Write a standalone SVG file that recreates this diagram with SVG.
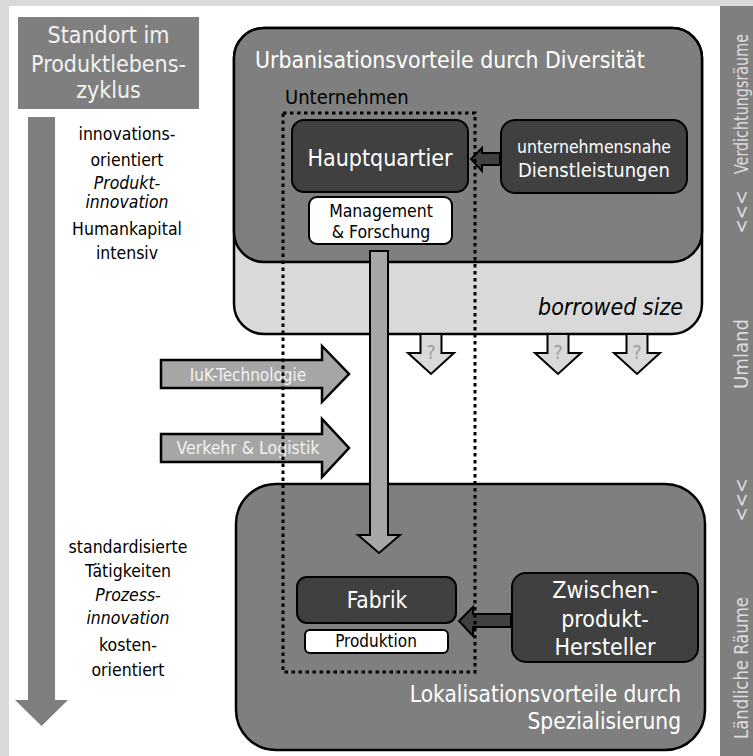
<svg xmlns="http://www.w3.org/2000/svg" width="753" height="756" viewBox="0 0 753 756">
<style>
text{font-family:"DejaVu Sans Condensed","DejaVu Sans",sans-serif;}
.w{fill:#ffffff;}
.k{fill:#000000;}
.c{text-anchor:middle;}
.r{text-anchor:end;}
.it{font-style:italic;}
.big{fill:#7f7f7f;stroke:#000;stroke-width:2.5;}
.node{fill:#404040;stroke:#000;stroke-width:2;}
.sub{fill:#ffffff;stroke:#000;stroke-width:2;}
.flow{fill:#a6a6a6;stroke:#000;stroke-width:2.5;stroke-linejoin:miter;}
.q{fill:#d9d9d9;stroke:#000;stroke-width:2;}
.dark{fill:#404040;stroke:#000;stroke-width:2;}
.side{fill:#dcdcdc;font-size:19px;text-anchor:middle;}
.qm{fill:#a0a0a0;font-size:20px;text-anchor:middle;}
</style>
<rect x="0" y="0" width="753" height="756" fill="#d9d9d9"/>
<rect x="9" y="6" width="711" height="750" fill="#ffffff"/>
<rect x="720" y="6" width="33" height="750" fill="#7f7f7f"/>

<g id="sidebar">
<text class="side" transform="translate(748,104) rotate(-90)" textLength="140" lengthAdjust="spacingAndGlyphs">Verdichtungsräume</text>
<text class="side" transform="translate(748,212) rotate(-90)">&lt;&lt;&lt;</text>
<text class="side" transform="translate(748,354) rotate(-90)" textLength="70" lengthAdjust="spacingAndGlyphs">Umland</text>
<text class="side" transform="translate(748,500) rotate(-90)">&lt;&lt;&lt;</text>
<text class="side" transform="translate(748,668) rotate(-90)" textLength="142" lengthAdjust="spacingAndGlyphs">Ländliche Räume</text>
</g>

<g id="title">
<rect x="18" y="17" width="181" height="92" fill="#7f7f7f"/>
<text class="c" x="108.5" y="43" font-size="23" fill="#f2f2f2">Standort im</text>
<text class="c" x="108.5" y="72" font-size="23" fill="#f2f2f2">Produktlebens-</text>
<text class="c" x="108.5" y="98" font-size="23" fill="#f2f2f2">zyklus</text>
</g>

<g id="lifecycle">
<polygon points="28,117 55,117 55,700 68,700 41.5,726 15,700 28,700" fill="#7f7f7f"/>
<g font-size="17.5" class="k">
<text class="c" x="127" y="140">innovations-</text>
<text class="c" x="127" y="166">orientiert</text>
<text class="c it" x="127" y="189">Produkt-</text>
<text class="c it" x="127" y="208">innovation</text>
<text class="c" x="127" y="235">Humankapital</text>
<text class="c" x="127" y="259">intensiv</text>
<text class="c" x="128" y="553">standardisierte</text>
<text class="c" x="128" y="577">Tätigkeiten</text>
<text class="c it" x="128" y="601">Prozess-</text>
<text class="c it" x="128" y="624">innovation</text>
<text class="c" x="128" y="651">kosten-</text>
<text class="c" x="128" y="676">orientiert</text>
</g>
</g>

<g id="urban">
<rect class="big" x="234" y="28" width="468" height="306" rx="30" style="fill:#d9d9d9"/>
<rect class="big" x="234" y="28" width="468" height="234" rx="30"/>
<text x="255" y="68" font-size="22.8" class="w">Urbanisationsvorteile durch Diversität</text>
<text class="r it k" x="683" y="315" font-size="23">borrowed size</text>
</g>

<g id="lokal">
<rect class="big" x="236" y="484" width="469" height="266" rx="40"/>
<text class="r w" x="681" y="702" font-size="22.5">Lokalisationsvorteile durch</text>
<text class="r w" x="681" y="729" font-size="22.5">Spezialisierung</text>
</g>

<g id="connectors">
<polygon class="q" points="420.5,334 441.5,334 441.5,353 454,353 431,374 408,353 420.5,353"/>
<polygon class="q" points="547.5,334 568.5,334 568.5,353 581,353 558,374 535,353 547.5,353"/>
<polygon class="q" points="626.5,334 647.5,334 647.5,353 660,353 637,374 614,353 626.5,353"/>
<text class="qm" x="431" y="359">?</text>
<text class="qm" x="558" y="359">?</text>
<text class="qm" x="637" y="359">?</text>
<polygon class="flow" points="161,360 322,360 322,346 349,374 322,402 322,388 161,388"/>
<text class="c" x="248" y="381" font-size="17" fill="#f2f2f2">IuK-Technologie</text>
<polygon class="flow" points="161,434 322,434 322,419 349,448 322,477 322,462 161,462"/>
<text class="c" x="248" y="454" font-size="17.5" fill="#f2f2f2">Verkehr &amp; Logistik</text>
<polygon class="flow" style="stroke-width:2" points="370,251 388,251 388,535 400,535 379,553 358,535 370,535"/>
<polygon class="dark" points="500,153 482,153 482,148 471,159 482,171 482,165 500,165"/>
<polygon class="dark" points="511,614 473,614 473,607 459,621 473,636 473,627 511,627"/>
</g>

<g id="unternehmen">
<text x="285" y="104" font-size="20" class="k">Unternehmen</text>
<rect x="283" y="113" width="192" height="559" fill="none" stroke="#000" stroke-width="3" stroke-dasharray="3.5 3.5"/>
</g>

<g id="hauptquartier">
<rect class="node" x="292" y="120" width="176" height="72" rx="12"/>
<text class="c w" x="380" y="166" font-size="23">Hauptquartier</text>
</g>
<g id="management">
<rect class="sub" x="309" y="197" width="143" height="47" rx="8"/>
<text class="c k" x="381" y="217" font-size="17.5">Management</text>
<text class="c k" x="381" y="238" font-size="17.5">&amp; Forschung</text>
</g>
<g id="dienstleistungen">
<rect class="node" x="501" y="120" width="186" height="73" rx="14"/>
<text class="c w" x="594" y="153" font-size="17.5">unternehmensnahe</text>
<text class="c w" x="594" y="177" font-size="20">Dienstleistungen</text>
</g>
<g id="fabrik">
<rect class="node" x="297" y="577" width="159" height="46" rx="10"/>
<text class="c w" x="377" y="608" font-size="22.5">Fabrik</text>
</g>
<g id="produktion">
<rect class="sub" x="305" y="630" width="143" height="23" rx="5"/>
<text class="c k" x="376" y="647" font-size="17">Produktion</text>
</g>
<g id="zwischenprodukt">
<rect class="node" x="512" y="573" width="186" height="89" rx="14"/>
<text class="c w" x="605" y="598" font-size="23">Zwischen-</text>
<text class="c w" x="605" y="627" font-size="23">produkt-</text>
<text class="c w" x="605" y="655" font-size="23">Hersteller</text>
</g>
</svg>
